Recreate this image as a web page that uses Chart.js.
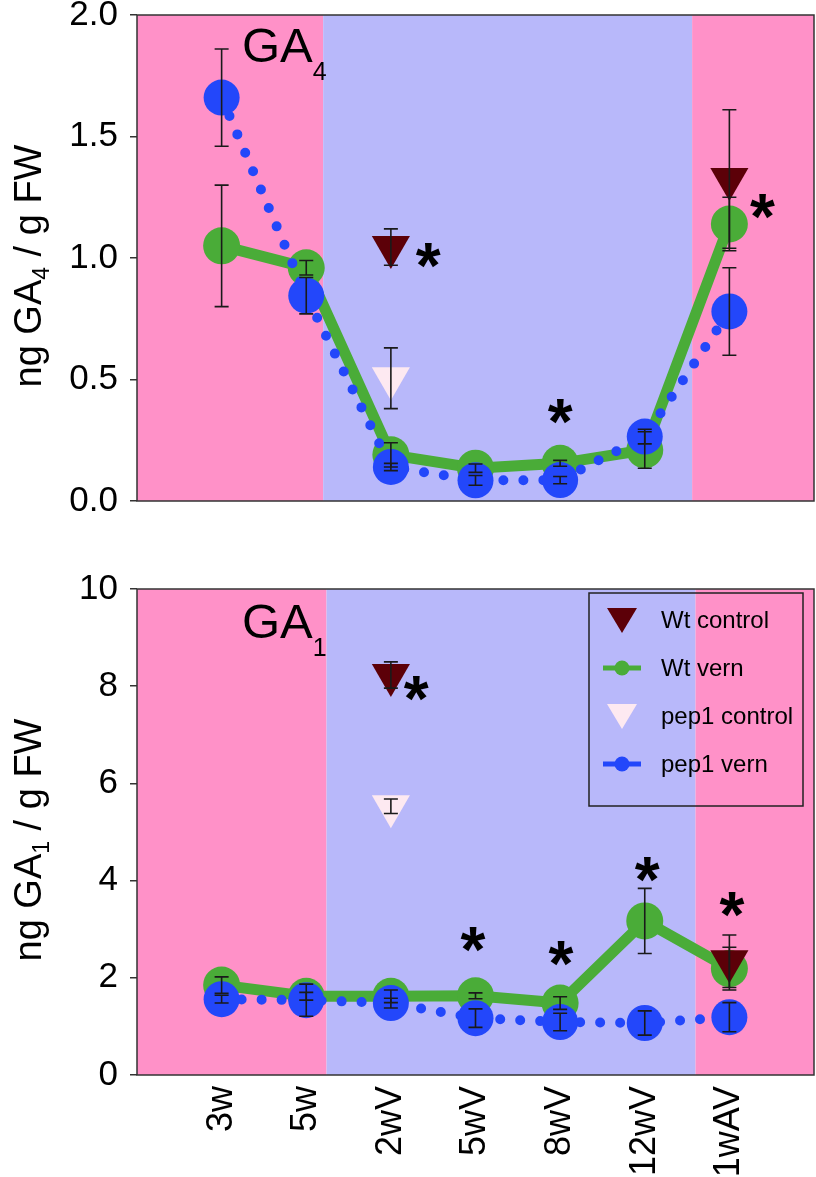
<!DOCTYPE html>
<html>
<head>
<meta charset="utf-8">
<script src="https://cdn.jsdelivr.net/npm/chart.js@4.4.1/dist/chart.umd.min.js"></script>
<style>
  html, body { margin: 0; padding: 0; background: #fff; overflow: hidden; }
  #wrap { position: relative; width: 816px; height: 1177px; overflow: hidden; }
  .box { position: absolute; left: 0; width: 816px; }
</style>
</head>
<body>
<div id="wrap">
  <div class="box" style="top:0;height:520px"><canvas id="ga4"></canvas></div>
  <div class="box" style="top:560px;height:617px"><canvas id="ga1"></canvas></div>
</div>
<script>
const categories = ['3w', '5w', '2wV', '5wV', '8wV', '12wV', '1wAV'];

// GA4, ng / g FW (mean and error)
const ga4WtVern = [1.05, 0.96, 0.19, 0.135, 0.155, 0.21, 1.14];
const ga4WtVernErr = [0.25, 0.03, 0.05, 0.017, 0.012, 0.075, 0.11];
const ga4PepVern = [1.66, 0.845, 0.14, 0.085, 0.086, 0.265, 0.78];
const ga4PepVernErr = [0.2, 0.075, 0.015, 0.02, 0.015, 0.03, 0.18];
const ga4WtCtrl = [null, null, 1.045, null, null, null, 1.325];
const ga4WtCtrlErr = [null, null, 0.075, null, null, null, 0.285];
const ga4PepCtrl = [null, null, 0.505, null, null, null, null];
const ga4PepCtrlErr = [null, null, 0.125, null, null, null, null];
const ga4Ticks = [0, 0.5, 1.0, 1.5, 2.0];
const ga4Stars = [[3.44, 1.01], [5.0, 0.37], [7.39, 1.21]];

// GA1, ng / g FW
const ga1WtVern = [1.85, 1.62, 1.62, 1.63, 1.48, 3.17, 2.19];
const ga1WtVernErr = [0.17, 0.08, 0.13, 0.06, 0.13, 0.67, 0.44];
const ga1PepVern = [1.56, 1.54, 1.48, 1.17, 1.09, 1.07, 1.19];
const ga1PepVernErr = [0.08, 0.33, 0.1, 0.19, 0.18, 0.25, 0.3];
const ga1WtCtrl = [null, null, 8.23, null, null, null, 2.34];
const ga1WtCtrlErr = [null, null, 0.27, null, null, null, 0.54];
const ga1PepCtrl = [null, null, 5.53, null, null, null, null];
const ga1PepCtrlErr = [null, null, 0.15, null, null, null, null];
const ga1Ticks = [0, 2, 4, 6, 8, 10];
const ga1Stars = [[3.3, 7.96], [3.97, 2.78], [5.01, 2.51], [6.03, 4.22], [7.03, 3.5]];

const PINK = '#ff91c8', LAV = '#b8b8fa';
const GREEN = '#4aac38', BLUE = '#2347fa', DARK = '#5c0008', PALE = '#fde9f1';
const FONT = '"Liberation Sans", Arial, sans-serif';

const pts = vals => vals.map((v, i) => ({ x: i + 1, y: v }));

function makeDatasets(wtVern, wtVernErr, pepVern, pepVernErr, wtCtrl, wtCtrlErr, pepCtrl, pepCtrlErr) {
  return [
    { label: 'Wt control', data: pts(wtCtrl), errors: wtCtrlErr, showLine: false,
      pointStyle: 'triangle', rotation: 180, pointRadius: 22, pointBorderWidth: 0,
      backgroundColor: DARK, borderColor: DARK, order: 1 },
    { label: 'pep1 control', data: pts(pepCtrl), errors: pepCtrlErr, showLine: false,
      pointStyle: 'triangle', rotation: 180, pointRadius: 22, pointBorderWidth: 0,
      backgroundColor: PALE, borderColor: PALE, order: 2 },
    { label: 'pep1 vern', data: pts(pepVern), errors: pepVernErr,
      borderColor: BLUE, backgroundColor: BLUE, borderWidth: 10,
      borderDash: [0, 20], borderCapStyle: 'round',
      pointRadius: 18, pointBorderWidth: 0, order: 3 },
    { label: 'Wt vern', data: pts(wtVern), errors: wtVernErr,
      borderColor: GREEN, backgroundColor: GREEN, borderWidth: 11,
      pointRadius: 18.5, pointBorderWidth: 0, order: 4 }
  ];
}

function star(ctx, x, y) {
  ctx.font = 'bold 64px ' + FONT;
  ctx.textAlign = 'center';
  ctx.textBaseline = 'alphabetic';
  const m = ctx.measureText('*');
  ctx.fillText('*', x, y + (m.actualBoundingBoxAscent - m.actualBoundingBoxDescent) / 2);
}

function subText(ctx, parts, x, y) {
  // parts: [text, size, dy]
  let cx = x;
  parts.forEach(p => {
    ctx.font = p[1] + 'px ' + FONT;
    ctx.fillText(p[0], cx, y + p[2]);
    cx += ctx.measureText(p[0]).width;
  });
  return cx - x;
}

// scale padding from tick labels is not wanted: the frame is placed by layout.padding
function noPad(s) {
  s.paddingTop = s.paddingBottom = s.paddingLeft = s.paddingRight = 0;
  s.getPadding = () => ({ left: 0, top: 0, right: 0, bottom: 0 });
}

const panel = {
  id: 'panel',
  beforeDraw(chart, args, o) {
    const { ctx, chartArea: a, scales: { x } } = chart;
    ctx.save();
    o.bands.forEach(b => {
      const x0 = x.getPixelForValue(b[0]), x1 = x.getPixelForValue(b[1]);
      ctx.fillStyle = b[2];
      ctx.fillRect(x0, a.top, x1 - x0, a.bottom - a.top);
    });
    ctx.restore();
  },
  afterDatasetsDraw(chart, args, o) {
    const { ctx, chartArea: a, scales: { x, y } } = chart;
    ctx.save();
    // error bars
    ctx.strokeStyle = '#1a1a1a';
    ctx.lineWidth = 1.6;
    chart.data.datasets.forEach(ds => {
      ds.data.forEach((p, i) => {
        const e = ds.errors[i];
        if (p.y == null || e == null) return;
        const px = x.getPixelForValue(p.x);
        const y1 = y.getPixelForValue(p.y + e), y2 = y.getPixelForValue(p.y - e);
        ctx.beginPath();
        ctx.moveTo(px, y1); ctx.lineTo(px, y2);
        ctx.moveTo(px - 7, y1); ctx.lineTo(px + 7, y1);
        ctx.moveTo(px - 7, y2); ctx.lineTo(px + 7, y2);
        ctx.stroke();
      });
    });
    // significance stars
    ctx.fillStyle = '#000';
    o.stars.forEach(s => star(ctx, x.getPixelForValue(s[0]), y.getPixelForValue(s[1])));
    // frame
    ctx.strokeStyle = '#333';
    ctx.lineWidth = 1.5;
    ctx.strokeRect(a.left, a.top, a.right - a.left, a.bottom - a.top);
    // panel label
    ctx.fillStyle = '#000';
    ctx.textAlign = 'left';
    ctx.textBaseline = 'alphabetic';
    subText(ctx, [['GA', 49, 0], [o.sub, 25, 18]], 242, a.top + o.labelDy);
    // legend
    if (o.legend) {
      const L = o.legend;
      ctx.strokeStyle = '#222';
      ctx.lineWidth = 1.5;
      ctx.strokeRect(L.x, L.y, L.w, L.h);
      const sx = L.x + 33;
      chart.data.datasets.slice().sort((p, q) => L.order.indexOf(p.label) - L.order.indexOf(q.label))
        .forEach((ds, k) => {
          const cy = L.y + 27 + k * 48;
          if (ds.pointStyle === 'triangle') {
            ctx.fillStyle = ds.backgroundColor;
            ctx.beginPath();
            ctx.moveTo(sx - 15, cy - 12); ctx.lineTo(sx + 15, cy - 12); ctx.lineTo(sx, cy + 13);
            ctx.closePath(); ctx.fill();
          } else {
            ctx.strokeStyle = ds.borderColor;
            ctx.lineWidth = 5;
            ctx.beginPath(); ctx.moveTo(sx - 19, cy); ctx.lineTo(sx + 19, cy); ctx.stroke();
            ctx.fillStyle = ds.borderColor;
            ctx.beginPath(); ctx.arc(sx, cy, 7.5, 0, Math.PI * 2); ctx.fill();
          }
          ctx.fillStyle = '#000';
          ctx.font = '24px ' + FONT;
          ctx.textAlign = 'left';
          ctx.textBaseline = 'middle';
          ctx.fillText(ds.label, L.x + 72, cy + 1);
        });
    }
    ctx.restore();
  },
  afterDraw(chart, args, o) {
    const { ctx, chartArea: a } = chart;
    ctx.save();
    ctx.fillStyle = '#000';
    ctx.textAlign = 'left';
    ctx.textBaseline = 'alphabetic';
    const parts = [['ng GA', 38, 0], [o.sub, 23, 8], [' / g FW', 38, 0]];
    let w = 0;
    parts.forEach(p => { ctx.font = p[1] + 'px ' + FONT; w += ctx.measureText(p[0]).width; });
    ctx.translate(41, (a.top + a.bottom) / 2 + o.titleDy);
    ctx.rotate(-Math.PI / 2);
    subText(ctx, parts, -w / 2, 0);
    ctx.restore();
  }
};

function makeChart(id, datasets, yMax, yTicks, fmt, showX, pad, o) {
  return new Chart(document.getElementById(id), {
    type: 'line',
    data: { datasets },
    plugins: [panel],
    options: {
      responsive: true,
      maintainAspectRatio: false,
      animation: false,
      layout: { padding: pad, autoPadding: false },
      plugins: { legend: { display: false }, tooltip: { enabled: false }, panel: o },
      scales: {
        x: {
          type: 'linear', min: 0, max: 8, display: showX,
          afterBuildTicks: s => { s.ticks = categories.map((c, i) => ({ value: i + 1 })); },
          afterFit: s => { s.height = showX ? 102 : 0; noPad(s); },
          grid: { display: false },
          border: { display: false },
          ticks: {
            autoSkip: false, minRotation: 90, maxRotation: 90, padding: 3, color: '#000',
            font: { family: FONT, size: 36 },
            callback: v => categories[v - 1] || ''
          }
        },
        y: {
          min: 0, max: yMax,
          afterBuildTicks: s => { s.ticks = yTicks.map(v => ({ value: v })); },
          afterFit: s => { s.width = 137; noPad(s); },
          grid: { drawOnChartArea: false, tickLength: 7, color: '#333', lineWidth: 1.5 },
          border: { display: false },
          ticks: { padding: 12, color: '#000', font: { family: FONT, size: 35 }, callback: fmt }
        }
      }
    }
  });
}

makeChart('ga4',
  makeDatasets(ga4WtVern, ga4WtVernErr, ga4PepVern, ga4PepVernErr, ga4WtCtrl, ga4WtCtrlErr, ga4PepCtrl, ga4PepCtrlErr),
  2, ga4Ticks, v => v.toFixed(1), false,
  { top: 15, bottom: 19, left: 0, right: 2 },
  { sub: '4', labelDy: 47, titleDy: 8, stars: ga4Stars,
    bands: [[0, 2.2, PINK], [2.2, 6.56, LAV], [6.56, 8, PINK]] });

makeChart('ga1',
  makeDatasets(ga1WtVern, ga1WtVernErr, ga1PepVern, ga1PepVernErr, ga1WtCtrl, ga1WtCtrlErr, ga1PepCtrl, ga1PepCtrlErr),
  10, ga1Ticks, v => String(v), true,
  { top: 29, bottom: 0, left: 0, right: 2 },
  { sub: '1', labelDy: 49, titleDy: 8, stars: ga1Stars,
    bands: [[0, 2.24, PINK], [2.24, 6.6, LAV], [6.6, 8, PINK]],
    legend: { x: 589, y: 33, w: 214, h: 213, order: ['Wt control', 'Wt vern', 'pep1 control', 'pep1 vern'] } });
</script>
</body>
</html>
